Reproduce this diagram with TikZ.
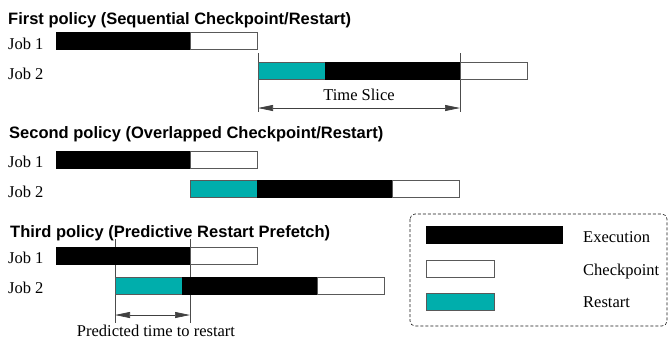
\documentclass[tikz,border=0pt]{standalone}
\usepackage{fontspec}
\setmainfont{Liberation Serif}
\newfontfamily\headfont{Liberation Sans}
\usetikzlibrary{positioning,arrows.meta}
\definecolor{restartcol}{RGB}{0,174,172}

\tikzset{
  bar/.style={draw=black!65, line width=0.6pt, minimum height=17pt, inner sep=0pt, outer sep=0pt},
  exec/.style={bar, fill=black, draw=black},
  ckpt/.style={bar, fill=white},
  rstrt/.style={bar, fill=restartcol},
  txt/.style={anchor=base west, inner sep=0pt, font=\fontsize{16.5}{18}\selectfont},
  head/.style={anchor=base west, inner sep=0pt, font=\headfont\bfseries\fontsize{16.5}{18}\selectfont},
  guide/.style={draw=black!70, line width=0.6pt},
  span/.style={{Triangle[length=15pt,width=6pt]}-{Triangle[length=15pt,width=6pt]}, draw=black!75, line width=0.7pt},
}

\begin{document}
\begin{tikzpicture}[x=1pt, y=-1pt]
        \useasboundingbox (0,0) rectangle (669,341);

        % first policy
        \node[head] (t1) at (8,24) {First policy (Sequential Checkpoint/Restart)};
        \node[txt] (a1) at (8,49) {Job 1};
        \node[txt] (a2) at (8,79) {Job 2};
        \coordinate (s1) at (258,53);
        \coordinate (s2) at (460,53);
        \draw[guide] (s1) -- ++(0,59);
        \draw[guide] (s2) -- ++(0,59);
        \node[exec, minimum width=134pt, anchor=north west] (a1e) at (56,32) {};
        \node[ckpt, minimum width=67pt, right=0pt of a1e] (a1c) {};
        \node[rstrt, minimum width=67pt, anchor=north west] (a2r) at (258,62) {};
        \node[exec, minimum width=135pt, right=0pt of a2r] (a2e) {};
        \node[ckpt, minimum width=67pt, right=0pt of a2e] (a2c) {};
        \draw[span] (s1 |- 0,108) -- (s2 |- 0,108);
        \node[txt, anchor=base] (slice) at (359,100) {Time Slice};

        % second policy
        \node[head] (t2) at (9,138) {Second policy (Overlapped Checkpoint/Restart)};
        \node[txt] (b1) at (8,167) {Job 1};
        \node[txt] (b2) at (8,197) {Job 2};
        \node[exec, minimum width=134pt, anchor=north west] (b1e) at (56,151) {};
        \node[ckpt, minimum width=67pt, right=0pt of b1e] (b1c) {};
        \node[rstrt, minimum width=67pt, anchor=north west] (b2r) at (190,180) {};
        \node[exec, minimum width=135pt, right=0pt of b2r] (b2e) {};
        \node[ckpt, minimum width=67pt, right=0pt of b2e] (b2c) {};

        % third policy
        \node[head] (t3) at (10,237) {Third policy (Predictive Restart Prefetch)};
        \node[txt] (c1) at (8,263) {Job 1};
        \node[txt] (c2) at (8,293) {Job 2};
        \coordinate (p1) at (115,239);
        \coordinate (p2) at (190,239);
        \draw[guide] (p1) -- ++(0,84);
        \draw[guide] (p2) -- ++(0,84);
        \node[exec, minimum width=134pt, anchor=north west] (c1e) at (56,247) {};
        \node[ckpt, minimum width=67pt, right=0pt of c1e] (c1c) {};
        \node[rstrt, minimum width=67pt, anchor=north west] (c2r) at (115,277) {};
        \node[exec, minimum width=135pt, right=0pt of c2r] (c2e) {};
        \node[ckpt, minimum width=67pt, right=0pt of c2e] (c2c) {};
        \draw[span] (p1 |- 0,315) -- (p2 |- 0,315);
        \node[txt, anchor=base] (pred) at (156,336) {Predicted time to restart};

        % legend
        \draw[black!90, line width=0.6pt, dash pattern=on 3pt off 2pt, rounded corners=5pt] (410,214) rectangle (667,326);
        \node[exec, minimum width=136pt, anchor=north west] (lexec) at (426,226) {};
        \node[ckpt, minimum width=68pt, anchor=north west] (lckpt) at (426,260) {};
        \node[rstrt, minimum width=68pt, anchor=north west] (lrstrt) at (426,293) {};
        \node[txt] (lt1) at (583,242) {Execution};
        \node[txt] (lt2) at (583,275) {Checkpoint};
        \node[txt] (lt3) at (583,307) {Restart};
\end{tikzpicture}
\end{document}
